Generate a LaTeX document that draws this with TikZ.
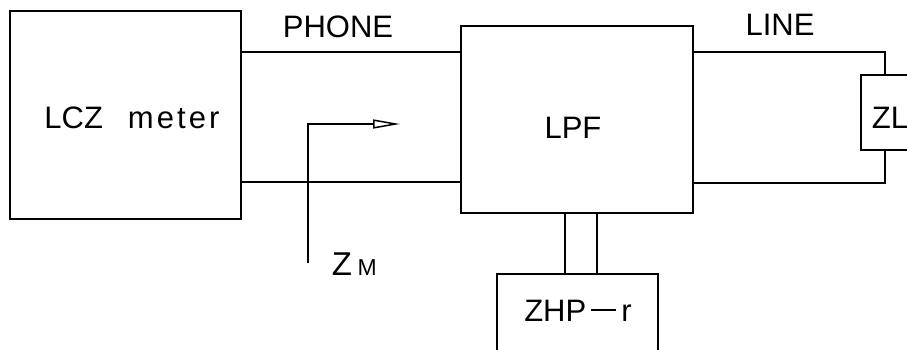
\documentclass[tikz,border=0pt]{standalone}
\usepackage{fontspec}
\setmainfont{Liberation Sans}
\usetikzlibrary{arrows.meta,positioning}

\begin{document}
\begin{tikzpicture}[
    x=1pt, y=-1pt, line width=1.7pt,
    box/.style={rectangle, draw, inner sep=0pt},
    lbl/.style={inner sep=0pt, font=\fontsize{31}{31}\selectfont},
    zarrow/.style={-{Triangle[open, length=27pt, width=9pt, line width=1.5pt]}},
]
\clip (0,0) rectangle (907,349);

% blocks
\node[box, minimum width=231pt, minimum height=208pt] (meter) at (125.5,115) {};
\node[box, minimum width=232pt, minimum height=187pt] (lpf) at (577,119.5) {};
\node[box, minimum width=48pt, minimum height=75pt] (zl) at (885,112.5) {};
\node[box, minimum width=161pt, minimum height=100pt] (zhp) at (577.5,324) {};

% block texts
\node[lbl] at (132,118) {LCZ\hspace{0.8em}{\addfontfeature{LetterSpace=10}meter}};
\node[lbl] at (573,128) {LPF};
\node[lbl] at (890,118) {ZL};
\node[lbl] at (578,311) {ZHP\,\rule[0.33em]{0.8em}{0.065em}\,r};

% wire labels
\node[lbl] (phone) at (338,27) {PHONE};
\node[lbl] (line) at (780,25) {LINE};

% phone side
\draw (meter.east |- 0,52) -- (lpf.west |- 0,52);
\draw (meter.east |- 0,182) -- (lpf.west |- 0,182);

% line side
\draw (lpf.east |- 0,52) -| (zl.north);
\draw (lpf.east |- 0,183) -| (zl.south);

% to ZHP-r
\draw (lpf.south -| 565,0) -- (zhp.north -| 565,0);
\draw (lpf.south -| 597,0) -- (zhp.north -| 597,0);

% measured impedance
\coordinate (zm) at (308,263);
\coordinate (ztip) at (400,124);
\draw[zarrow] (zm) |- (ztip);
\node[inner sep=0pt, anchor=base west, font=\fontsize{33}{33}\selectfont] (zmlbl) at (331,275)
    {Z\,{\fontsize{23}{23}\selectfont M}};

\end{tikzpicture}
\end{document}
